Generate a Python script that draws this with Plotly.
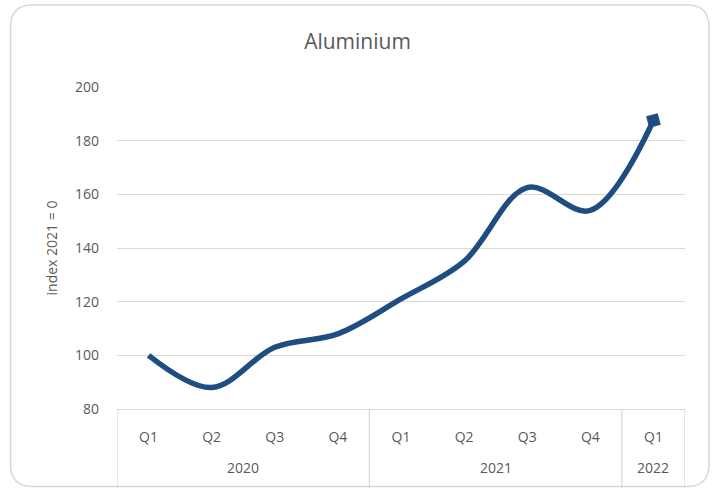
import plotly.graph_objects as go

# Quarterly aluminium price index
years = ["2020", "2021", "2022"]
quarters_per_year = [4, 4, 1]
quarters = ["Q1", "Q2", "Q3", "Q4", "Q1", "Q2", "Q3", "Q4", "Q1"]
index_values = [100, 88, 103, 108, 121, 135, 162.5, 154, 187.5]

y_ticks = [80, 100, 120, 140, 160, 180, 200]

LINE_COLOR = "#1F4D82"
TEXT_COLOR = "#595959"
GRID_COLOR = "#D9D9D9"
FONT = "Open Sans"

W, H = 715, 488
L, R, T, B = 117, 30, 87, 79
PW, PH = W - L - R, H - T - B

positions = list(range(len(quarters)))


def px_x(px):
    return (px - L) / PW


def px_y(py):
    return (H - B - py) / PH


fig = go.Figure()
fig.add_trace(go.Scatter(
    x=positions,
    y=index_values,
    mode="lines",
    line=dict(color=LINE_COLOR, width=5.5, shape="spline", smoothing=1.0),
    hoverinfo="skip",
    showlegend=False,
))
# End-point marker on the latest quarter
fig.add_trace(go.Scatter(
    x=[positions[-1]],
    y=[index_values[-1]],
    mode="markers",
    marker=dict(symbol="square", size=12, color=LINE_COLOR, angle=-15),
    hoverinfo="skip",
    showlegend=False,
))

shapes = []
annotations = []

# Year group labels and dividers under the quarter labels
start = 0
bottom = px_y(H + 2)
bounds = [-0.5]
for year, n in zip(years, quarters_per_year):
    centre = start + (n - 1) / 2
    annotations.append(dict(
        x=centre, y=px_y(467), xref="x", yref="paper",
        text=year, showarrow=False, xanchor="center", yanchor="middle",
        font=dict(family=FONT, size=14, color=TEXT_COLOR),
    ))
    start += n
    bounds.append(start - 0.5)
for b in bounds:
    shapes.append(dict(
        type="line", xref="x", yref="paper",
        x0=b, x1=b, y0=0, y1=bottom,
        line=dict(color=GRID_COLOR, width=1.3),
    ))

# Rounded frame around the whole chart
fx0, fx1 = px_x(10.5), px_x(709)
fy1, fy0 = px_y(5), px_y(486.5)
rx, ry = 22 / PW, 22 / PH
frame_path = (
    f"M {fx0 + rx},{fy1} L {fx1 - rx},{fy1} Q {fx1},{fy1} {fx1},{fy1 - ry} "
    f"L {fx1},{fy0 + ry} Q {fx1},{fy0} {fx1 - rx},{fy0} "
    f"L {fx0 + rx},{fy0} Q {fx0},{fy0} {fx0},{fy0 + ry} "
    f"L {fx0},{fy1 - ry} Q {fx0},{fy1} {fx0 + rx},{fy1} Z"
)
shapes.append(dict(
    type="path", xref="paper", yref="paper", path=frame_path,
    line=dict(color=GRID_COLOR, width=1.5), layer="below",
))

fig.update_layout(
    width=W,
    height=H,
    margin=dict(l=L, r=R, t=T, b=B),
    paper_bgcolor="white",
    plot_bgcolor="white",
    font=dict(family=FONT, color=TEXT_COLOR, size=14),
    title=dict(
        text="Aluminium",
        x=0.5,
        xanchor="center",
        y=1 - 42 / H,
        yanchor="middle",
        font=dict(family=FONT, size=21, color=TEXT_COLOR),
    ),
    xaxis=dict(
        range=[-0.5, len(quarters) - 0.5],
        tickvals=positions,
        ticktext=quarters,
        showgrid=False,
        zeroline=False,
        showline=True,
        linecolor=GRID_COLOR,
        linewidth=1.3,
        ticks="",
        ticklabelstandoff=15,
        tickfont=dict(family=FONT, size=14, color=TEXT_COLOR),
        fixedrange=True,
    ),
    yaxis=dict(
        range=[80, 200],
        tickvals=y_ticks,
        showgrid=True,
        gridcolor=GRID_COLOR,
        gridwidth=1.3,
        zeroline=False,
        showline=False,
        ticks="",
        ticklabelstandoff=17,
        tickfont=dict(family=FONT, size=14, color=TEXT_COLOR),
        title=dict(text="index 2021 = 0", standoff=14,
                   font=dict(family=FONT, size=14, color=TEXT_COLOR)),
        fixedrange=True,
    ),
    shapes=shapes,
    annotations=annotations,
)

fig.write_html("out.html")
